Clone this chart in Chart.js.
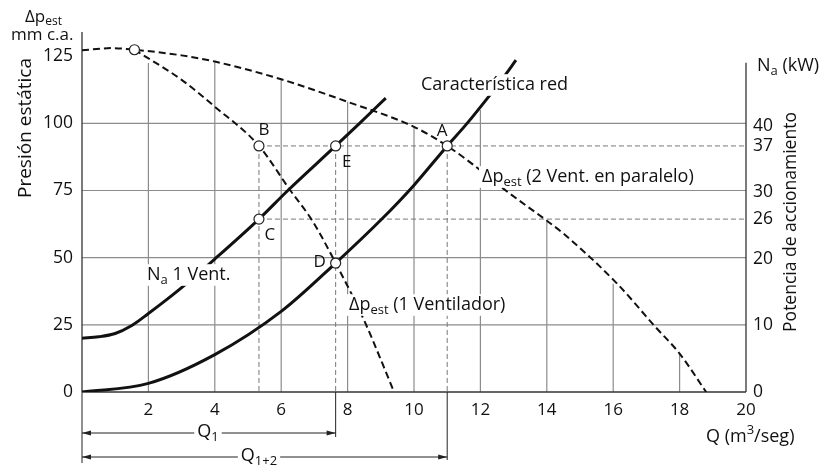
<!DOCTYPE html>
<html>
<head>
<meta charset="utf-8">
<script src="https://cdn.jsdelivr.net/npm/chart.js@4.4.1/dist/chart.umd.min.js"></script>
<style>
  html, body { margin: 0; padding: 0; background: #fff; }
  #wrap { width: 819px; height: 468px; }
</style>
</head>
<body>
<div id="wrap"><canvas id="fan-canvas" width="819" height="468"></canvas></div>
<script>
const FAMILY = '"Open Sans", "DejaVu Sans", sans-serif';

// axis ticks
const qTicks = [2, 4, 6, 8, 10, 12, 14, 16, 18, 20];
const presTicks = [0, 25, 50, 75, 100, 125];
const powerTicks = [0, 10, 20, 26, 30, 37, 40];

// 2 fans in parallel (static pressure, mm c.a.)
const parQ = [0, 0.9, 1.58, 3, 4, 6, 8, 10, 11, 12.13, 12.69, 14.05, 14.5, 16.12, 17.28, 18, 18.8];
const parP = [127.2, 128, 127.4, 125.3, 123, 116.4, 108, 98.7, 91.6, 81.3, 75.7, 63.3, 59, 40.3, 24.1, 14.3, 0];

// single fan
const oneQ = [1.58, 3, 4, 5.33, 6.27, 6.93, 7.64, 8.5, 9.4];
const oneP = [127.4, 116.2, 106.2, 91.6, 75.1, 63.9, 48, 26.6, 0];

// network characteristic
const netQ = [0, 2, 4, 6, 7.64, 9, 10, 11, 11.58, 12.38, 12.69, 13.07];
const netP = [0, 3.2, 13.9, 30, 48, 64, 77, 91.6, 99.7, 112, 117, 123.5];

// drive power of one fan (kW)
const naQ = [0, 0.5, 1, 1.5, 2, 2.5, 3, 4, 5.33, 6.2, 7.64, 8.36, 9.15];
const naKW = [8.1, 8.3, 8.8, 10.0, 11.8, 13.7, 15.7, 20.0, 26, 30.3, 37, 40.4, 44.2];

// operating points
const qB = 5.33, qD = 7.64, qA = 11.0;
const naE = 37, naC = 26;
const pPeak = 127.4, qPeak = 1.58, pD = 48;

// vertical grid lines stop at the top curve
const gridQ = [2, 4, 6, 8, 10, 12, 14, 16, 18];
const gridTop = [122.5, 123, 116.4, 108, 98.7, 105, 63.3, 40.3, 14.3];

const zip = (xs, ys) => xs.map((v, i) => ({x: v, y: ys[i]}));

function drawRich(ctx, x, y, parts, opt = {}) {
    const size = opt.size || 18;
    const small = Math.round(size * 0.7);
    const segs = parts.map(p => Array.isArray(p) ? {t: p[0], k: p[1]} : {t: p, k: ''});
    let total = 0;
    segs.forEach(s => {
        ctx.font = (s.k ? small : size) + 'px ' + FAMILY;
        s.w = ctx.measureText(s.t).width;
        total += s.w;
    });
    let x0 = opt.align === 'center' ? x - total / 2 : x;
    if (opt.bg) {
        ctx.fillStyle = '#fff';
        ctx.fillRect(x0 - 3, y - size * 0.6, total + 6, size * 1.2);
    }
    ctx.fillStyle = '#111';
    ctx.textBaseline = 'middle';
    ctx.textAlign = 'left';
    segs.forEach(s => {
        ctx.font = (s.k ? small : size) + 'px ' + FAMILY;
        let dy = 0;
        if (s.k === 'sub') dy = size * 0.28;
        if (s.k === 'sup') dy = -size * 0.35;
        ctx.fillText(s.t, x0, y + dy);
        x0 += s.w;
    });
}

function line(ctx, x1, y1, x2, y2) {
    ctx.beginPath();
    ctx.moveTo(x1, y1);
    ctx.lineTo(x2, y2);
    ctx.stroke();
}

function arrowLine(ctx, x1, x2, y) {
    line(ctx, x1, y, x2, y);
    [[x1, 1], [x2, -1]].forEach(([px, d]) => {
        ctx.beginPath();
        ctx.moveTo(px, y);
        ctx.lineTo(px + d * 9, y - 2.5);
        ctx.lineTo(px + d * 9, y + 2.5);
        ctx.closePath();
        ctx.fill();
    });
}

const overlay = {
    id: 'overlay',
    beforeDatasetsDraw(chart) {
        const {ctx, scales: {x, y, yR}} = chart;
        ctx.save();
        // grid
        ctx.strokeStyle = '#8c8c8c';
        ctx.lineWidth = 1.2;
        [25, 50, 75, 100].forEach(v => {
            const py = y.getPixelForValue(v);
            line(ctx, x.left, py, x.right, py);
        });
        gridQ.forEach((q, i) => {
            const px = x.getPixelForValue(q);
            line(ctx, px, y.getPixelForValue(0), px, y.getPixelForValue(gridTop[i]));
        });
        // reference lines through the operating points
        ctx.strokeStyle = '#777';
        ctx.lineWidth = 1;
        ctx.setLineDash([5, 3]);
        const y37 = yR.getPixelForValue(naE), y26 = yR.getPixelForValue(naC);
        line(ctx, x.getPixelForValue(qB), y37, x.right, y37);
        line(ctx, x.getPixelForValue(qB), y26, x.right, y26);
        [qB, qD, qA].forEach(q => {
            const px = x.getPixelForValue(q);
            line(ctx, px, y37, px, y.getPixelForValue(0));
        });
        ctx.setLineDash([]);
        // axes
        ctx.strokeStyle = '#333';
        ctx.lineWidth = 1.3;
        const y0 = y.getPixelForValue(0);
        line(ctx, x.left, y.top, x.left, y0);
        line(ctx, x.left, y0, x.right, y0);
        line(ctx, x.right, yR.getPixelForValue(49.5), x.right, y0);
        ctx.restore();
    },
    afterDatasetsDraw(chart) {
        const {ctx, scales: {x, y, yR}} = chart;
        ctx.save();
        // curve labels
        drawRich(ctx, 421, 85, ['Característica red'], {bg: true});
        drawRich(ctx, 482, 177, ['Δp', ['est', 'sub'], ' (2 Vent. en paralelo)'], {bg: true});
        drawRich(ctx, 349, 305, ['Δp', ['est', 'sub'], ' (1 Ventilador)'], {bg: true});
        drawRich(ctx, 147, 275, ['N', ['a', 'sub'], ' 1 Vent.'], {bg: true});
        // point letters
        const pt = (q, v, s) => ({px: x.getPixelForValue(q), py: s.getPixelForValue(v)});
        const B = pt(qB, naE, yR), E = pt(qD, naE, yR), A = pt(qA, naE, yR);
        const C = pt(qB, naC, yR), D = pt(qD, pD, y);
        drawRich(ctx, B.px + 5, B.py - 16, ['B'], {align: 'center', size: 17});
        drawRich(ctx, E.px + 11, E.py + 16, ['E'], {align: 'center', size: 17});
        drawRich(ctx, A.px - 5, A.py - 15, ['A'], {align: 'center', size: 17});
        drawRich(ctx, C.px + 11, C.py + 16, ['C'], {align: 'center', size: 17});
        drawRich(ctx, D.px - 16, D.py - 1, ['D'], {align: 'center', size: 17});
        ctx.restore();
    },
    afterDraw(chart) {
        const {ctx, scales: {x, y}} = chart;
        ctx.save();
        // titles
        drawRich(ctx, 25, 17, ['Δp', ['est', 'sub']], {size: 17});
        drawRich(ctx, 11, 35, ['mm c.a.'], {size: 17});
        drawRich(ctx, 757, 66, ['N', ['a', 'sub'], ' (kW)']);
        drawRich(ctx, 706, 437, ['Q (m', ['3', 'sup'], '/seg)']);
        ctx.translate(26, 128);
        ctx.rotate(-Math.PI / 2);
        drawRich(ctx, 0, 0, ['Presión estática'], {align: 'center', size: 19});
        ctx.setTransform(1, 0, 0, 1, 0, 0);
        ctx.translate(791, 222);
        ctx.rotate(-Math.PI / 2);
        drawRich(ctx, 0, 0, ['Potencia de accionamiento'], {align: 'center', size: 17.5});
        ctx.setTransform(1, 0, 0, 1, 0, 0);
        // flow rate arrows under the axis
        const y0 = y.getPixelForValue(0);
        const x0 = x.getPixelForValue(0), xD = x.getPixelForValue(qD), xA = x.getPixelForValue(qA);
        ctx.strokeStyle = '#222';
        ctx.fillStyle = '#222';
        ctx.lineWidth = 1;
        line(ctx, x0, y0, x0, 463);
        line(ctx, xD, y0, xD, 437);
        line(ctx, xA, y0, xA, 460);
        arrowLine(ctx, x0, xD, 433);
        arrowLine(ctx, x0, xA, 457);
        drawRich(ctx, 208, 432, ['Q', ['1', 'sub']], {align: 'center', bg: true});
        drawRich(ctx, 259, 456, ['Q', ['1+2', 'sub']], {align: 'center', bg: true});
        ctx.restore();
    }
};

Chart.defaults.font.family = FAMILY;
Chart.defaults.color = '#111';

const curve = {
    showLine: true,
    pointRadius: 0,
    borderColor: '#111',
    cubicInterpolationMode: 'monotone',
    fill: false
};
const marker = {
    showLine: false,
    pointRadius: 5,
    pointBackgroundColor: '#fff',
    pointBorderColor: '#222',
    pointBorderWidth: 1.2
};

new Chart(document.getElementById('fan-canvas'), {
    type: 'scatter',
    plugins: [overlay],
    data: {
        datasets: [
            Object.assign({label: 'Puntos kW', yAxisID: 'yR',
                data: [{x: qB, y: naE}, {x: qD, y: naE}, {x: qA, y: naE}, {x: qB, y: naC}]}, marker),
            Object.assign({label: 'Puntos', yAxisID: 'y',
                data: [{x: qPeak, y: pPeak}, {x: qD, y: pD}]}, marker),
            Object.assign({label: 'Característica red', yAxisID: 'y', data: zip(netQ, netP), borderWidth: 3}, curve),
            Object.assign({label: 'Na 1 Vent.', yAxisID: 'yR', data: zip(naQ, naKW), borderWidth: 3}, curve),
            Object.assign({label: '2 Vent. en paralelo', yAxisID: 'y', data: zip(parQ, parP),
                borderWidth: 2, borderDash: [7, 4]}, curve),
            Object.assign({label: '1 Ventilador', yAxisID: 'y', data: zip(oneQ, oneP),
                borderWidth: 2, borderDash: [7, 4]}, curve)
        ]
    },
    options: {
        responsive: false,
        animation: false,
        devicePixelRatio: 1,
        layout: {padding: {top: 32, left: 0, right: 0, bottom: 0}},
        plugins: {legend: {display: false}, tooltip: {enabled: false}},
        scales: {
            x: {
                type: 'linear', min: 0, max: 20,
                grid: {display: false, drawTicks: false},
                border: {display: false},
                afterBuildTicks: s => { s.ticks = qTicks.map(v => ({value: v})); },
                afterFit: s => { s.height = 76; },
                ticks: {autoSkip: false, maxRotation: 0, padding: 8, font: {size: 17}, color: '#111'}
            },
            y: {
                type: 'linear', position: 'left', min: 0, max: 134,
                grid: {display: false, drawTicks: false},
                border: {display: false},
                afterBuildTicks: s => { s.ticks = presTicks.map(v => ({value: v})); },
                afterFit: s => { s.width = 82; },
                ticks: {padding: 9, font: {size: 17.5}, color: '#111'}
            },
            yR: {
                type: 'linear', position: 'right', min: 0, max: 134 / (125 / 50.5),
                grid: {display: false, drawTicks: false},
                border: {display: false},
                afterBuildTicks: s => { s.ticks = powerTicks.map(v => ({value: v})); },
                afterFit: s => { s.width = 73; },
                ticks: {padding: 7, font: {size: 17.5}, color: '#111'}
            }
        }
    }
});
</script>
</body>
</html>
